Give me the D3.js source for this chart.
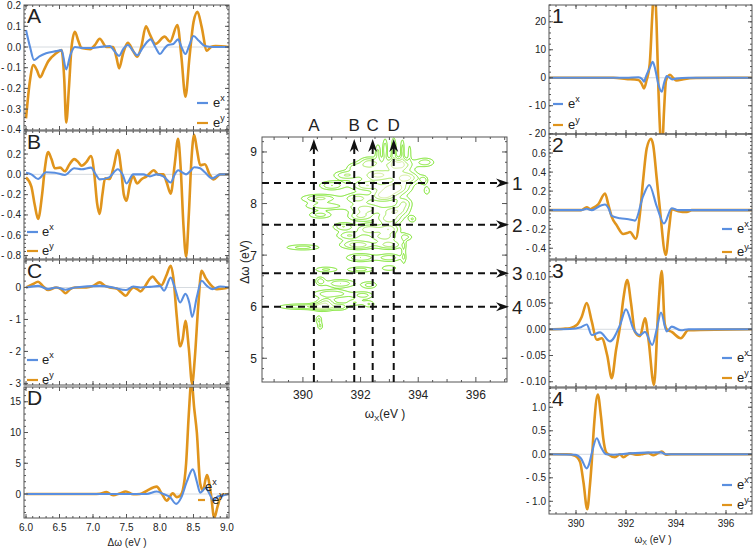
<!DOCTYPE html>
<html><head><meta charset="utf-8">
<script src="https://cdn.jsdelivr.net/npm/d3@7"></script>
<style>body{margin:0;background:#fff} svg{display:block} text{font-family:"Liberation Sans",Arial,sans-serif;fill:#222}</style>
</head><body><svg id="c" width="756" height="548"></svg>
<script>
// ---------------- DATA ----------------
// Left panels: x = Δω (eV)
const aEx=[[6.0,0.082],[6.06,0.0],[6.12,-0.063],[6.2,-0.045],[6.3,-0.03],[6.45,-0.02],[6.53,-0.015],[6.6,-0.108],[6.66,-0.04],[6.73,0.0],[6.85,-0.005],[6.96,-0.005],[7.1,0.0],[7.25,0.005],[7.32,-0.02],[7.39,-0.043],[7.45,-0.01],[7.52,0.01],[7.6,-0.02],[7.66,-0.04],[7.75,0.0],[7.86,0.037],[7.93,0.0],[8.0,-0.034],[8.06,-0.01],[8.12,0.01],[8.2,0.015],[8.27,0.037],[8.32,0.0],[8.38,-0.034],[8.44,0.01],[8.5,0.053],[8.58,0.03],[8.67,0.005],[8.8,0.0],[9.03,0.0]];
const aEy=[[6.0,-0.345],[6.06,-0.16],[6.11,-0.087],[6.16,-0.11],[6.21,-0.146],[6.27,-0.11],[6.33,-0.07],[6.45,-0.03],[6.53,-0.015],[6.57,-0.15],[6.6,-0.365],[6.64,-0.2],[6.68,0.0],[6.73,0.074],[6.78,0.03],[6.83,-0.005],[6.96,-0.01],[7.03,0.01],[7.1,0.04],[7.2,0.0],[7.3,0.0],[7.35,-0.05],[7.39,-0.103],[7.45,-0.03],[7.52,0.02],[7.6,-0.02],[7.66,-0.047],[7.72,0.0],[7.79,0.10],[7.85,0.06],[7.93,0.015],[8.07,0.05],[8.15,0.026],[8.26,0.106],[8.32,-0.05],[8.38,-0.24],[8.44,-0.05],[8.5,0.12],[8.56,0.17],[8.62,0.1],[8.7,-0.018],[8.76,0.0],[8.83,0.005],[9.03,0.0]];
const bEx=[[6.0,0.016],[6.08,0.0],[6.18,-0.046],[6.3,0.02],[6.43,0.016],[6.58,-0.007],[6.72,0.06],[6.83,0.05],[6.97,0.066],[7.04,0.0],[7.1,-0.05],[7.24,-0.03],[7.37,0.05],[7.44,0.0],[7.5,-0.09],[7.6,0.0],[7.75,0.0],[7.85,-0.02],[7.95,0.0],[8.05,-0.02],[8.16,-0.08],[8.22,0.0],[8.27,0.04],[8.33,0.02],[8.39,0.0],[8.45,0.03],[8.51,0.07],[8.6,0.06],[8.67,0.02],[8.78,-0.04],[8.9,0.0],[9.03,0.0]];
const bEy=[[6.0,-0.03],[6.08,-0.12],[6.13,-0.3],[6.18,-0.44],[6.24,-0.2],[6.28,0.05],[6.33,0.22],[6.38,0.15],[6.43,0.06],[6.51,0.066],[6.58,0.03],[6.65,0.1],[6.72,0.15],[6.78,0.12],[6.83,0.085],[6.9,0.12],[6.97,0.18],[7.02,0.0],[7.06,-0.28],[7.1,-0.39],[7.14,-0.2],[7.18,-0.04],[7.25,-0.046],[7.31,0.08],[7.37,0.24],[7.42,0.05],[7.46,-0.2],[7.5,-0.26],[7.55,-0.1],[7.6,-0.02],[7.66,-0.09],[7.72,-0.05],[7.8,-0.02],[7.91,0.04],[7.97,0.0],[8.05,0.0],[8.1,-0.08],[8.16,-0.19],[8.22,0.1],[8.27,0.35],[8.31,0.05],[8.35,-0.5],[8.39,-0.81],[8.43,-0.4],[8.47,0.15],[8.51,0.39],[8.55,0.25],[8.6,0.09],[8.67,0.1],[8.74,0.0],[8.8,-0.05],[8.9,0.0],[9.03,0.0]];
const cEx=[[6.0,0.0],[6.18,0.05],[6.33,-0.05],[6.45,0.0],[6.59,-0.07],[6.73,0.0],[7.1,0.05],[7.3,0.0],[7.49,-0.08],[7.6,0.03],[7.71,0.0],[7.85,0.02],[8.0,0.05],[8.06,-0.1],[8.16,0.31],[8.22,0.0],[8.3,-0.47],[8.38,-0.2],[8.44,-0.5],[8.48,-0.92],[8.55,-0.3],[8.62,0.21],[8.7,0.05],[8.78,-0.05],[8.9,0.03],[9.03,0.0]];
const cEy=[[6.0,0.0],[6.1,0.1],[6.18,0.18],[6.25,0.05],[6.33,-0.08],[6.45,0.0],[6.52,-0.05],[6.59,-0.18],[6.66,-0.05],[6.73,0.0],[6.9,0.0],[7.0,0.05],[7.1,0.16],[7.18,0.05],[7.25,0.0],[7.35,-0.03],[7.42,-0.15],[7.49,-0.26],[7.55,-0.1],[7.6,0.0],[7.66,-0.05],[7.71,-0.12],[7.78,0.05],[7.84,0.25],[7.89,0.34],[7.95,0.2],[8.02,0.07],[8.09,0.35],[8.16,0.68],[8.2,0.3],[8.25,-0.9],[8.3,-1.84],[8.34,-1.6],[8.38,-1.04],[8.43,-1.9],[8.48,-3.02],[8.52,-2.2],[8.57,-0.6],[8.62,0.52],[8.68,0.3],[8.75,0.1],[8.85,-0.05],[9.03,0.0]];
const dEx=[[6.0,0.0],[7.8,0.0],[7.95,0.4],[8.05,0.0],[8.15,-0.5],[8.24,-1.6],[8.32,-0.5],[8.4,2.0],[8.49,4.0],[8.55,2.0],[8.6,0.2],[8.68,1.0],[8.74,0.0],[8.8,-1.1],[8.86,-0.4],[8.92,-0.3],[9.03,0.0]];
const dEy=[[6.0,0.0],[7.0,0.0],[7.1,0.05],[7.2,0.3],[7.3,-0.2],[7.4,0.1],[7.49,0.4],[7.6,-0.05],[7.7,0.0],[7.8,0.5],[7.95,1.2],[8.03,0.0],[8.1,-1.07],[8.19,0.1],[8.25,-0.5],[8.3,-0.3],[8.34,0.6],[8.39,5.0],[8.43,13.0],[8.47,18.5],[8.51,14.0],[8.55,10.0],[8.6,1.7],[8.64,0.6],[8.7,3.1],[8.76,0.0],[8.81,-3.9],[8.86,-2.0],[8.92,-0.15],[9.03,0.0]];
// Right panels: x = ωX (eV)
const e1x=[[388.92,0],[392.0,0],[392.5,0.2],[392.65,-0.5],[392.72,-1.4],[392.8,0.5],[392.95,3.5],[393.07,5.7],[393.17,3],[393.3,-2.5],[393.43,-5.0],[393.52,-2],[393.63,0.6],[393.7,0.3],[393.85,-0.6],[394.0,-0.3],[394.5,0],[397.04,0]];
const e1y=[[388.92,0],[391.5,0],[392.0,-0.4],[392.5,-0.8],[392.62,-2.0],[392.72,-3.8],[392.82,-1.0],[392.95,5],[393.05,22],[393.13,33],[393.22,20],[393.3,-5],[393.37,-20],[393.44,-26],[393.52,-12],[393.6,-1],[393.76,1.1],[393.9,-0.2],[394.03,-1.0],[394.3,-0.5],[394.8,-0.1],[397.04,0]];
const e2x=[[388.92,0],[390.2,0],[390.43,0.015],[390.63,0.0],[391.0,0.05],[391.16,0.06],[391.3,0.02],[391.43,-0.06],[391.76,-0.085],[392.1,-0.095],[392.36,-0.11],[392.69,0.15],[392.93,0.265],[393.23,0.04],[393.52,-0.14],[393.83,0.02],[394.1,0.0],[397.04,0]];
const e2y=[[388.92,0],[390.2,0],[390.43,0.03],[390.58,0.01],[390.66,0.02],[390.89,0.06],[391.16,0.175],[391.3,0.05],[391.43,-0.07],[391.63,-0.16],[391.89,-0.25],[392.05,-0.24],[392.16,-0.23],[392.39,-0.3],[392.56,-0.03],[392.69,0.33],[392.83,0.65],[393.0,0.75],[393.09,0.68],[393.23,0.33],[393.36,0.0],[393.59,-0.47],[393.72,-0.2],[393.83,0.01],[394.09,-0.01],[394.43,-0.02],[394.63,0],[397.04,0]];
const e3x=[[388.92,0],[389.76,0.0005],[390.2,0.004],[390.43,0.009],[390.63,-0.011],[390.96,-0.006],[391.36,-0.023],[391.76,0.008],[392.0,0.038],[392.3,0.0],[392.56,-0.011],[392.76,-0.005],[393.05,-0.03],[393.23,0.0],[393.4,0.032],[393.63,-0.004],[393.83,0.005],[394.2,-0.002],[394.5,0],[397.04,0]];
const e3y=[[388.92,0],[389.5,0.001],[389.76,0.002],[390.03,0.008],[390.23,0.024],[390.43,0.05],[390.63,0.015],[390.83,-0.02],[391.03,-0.017],[391.25,-0.05],[391.43,-0.093],[391.6,-0.04],[391.76,0.005],[391.9,0.06],[392.05,0.094],[392.2,0.05],[392.36,-0.005],[392.56,-0.013],[392.76,0.021],[392.9,-0.02],[393.12,-0.106],[393.29,0.037],[393.43,0.111],[393.55,0.01],[393.63,0.0],[393.83,-0.005],[394.19,-0.017],[394.49,-0.002],[397.04,0]];
const e4x=[[388.92,0],[389.96,-0.01],[390.2,-0.09],[390.43,-0.3],[390.53,-0.2],[390.63,0.02],[390.83,0.34],[391.0,0.15],[391.2,0.0],[391.5,-0.01],[392.16,0.02],[393.4,0.04],[393.6,0.0],[397.04,0]];
const e4y=[[388.92,0],[389.63,0],[389.96,-0.03],[390.16,-0.16],[390.3,-0.6],[390.45,-1.17],[390.55,-0.7],[390.63,-0.16],[390.72,0.6],[390.87,1.27],[391.0,0.8],[391.09,0.34],[391.2,0.05],[391.29,0.0],[391.56,-0.06],[391.76,0.0],[391.89,-0.06],[392.16,0.02],[392.4,-0.01],[392.6,0.0],[392.89,0.03],[393.1,-0.02],[393.2,0.0],[393.43,0.06],[393.6,-0.01],[393.8,0.0],[397.04,0]];
// Tick values and labels
const aTicks=[0.2,0.1,0,-0.1,-0.2,-0.3,-0.4], aLabels=["0.2","0.1","0.0","- 0.1","- 0.2","- 0.3","- 0.4"];
const bTicks=[0.2,0,-0.2,-0.4,-0.6,-0.8], bLabels=["0.2","0.0","- 0.2","- 0.4","- 0.6","- 0.8"];
const cTicks=[0,-1,-2,-3], cLabels=["0","- 1","- 2","- 3"];
const dTicks=[15,10,5,0], dLabels=["15","10","5","0"];
const r1Ticks=[20,10,0,-10,-20], r1Labels=["20","10","0","- 10","- 20"];
const r2Ticks=[0.6,0.4,0.2,0,-0.2,-0.4], r2Labels=["0.6","0.4","0.2","0.0","- 0.2","- 0.4"];
const r3Ticks=[0.1,0.05,0,-0.05,-0.1], r3Labels=["0.10","0.05","0.00","- 0.05","- 0.10"];
const r4Ticks=[1,0.5,0,-0.5,-1], r4Labels=["1.0","0.5","0.0","- 0.5","- 1.0"];
const dwTicks=[6.0,6.5,7.0,7.5,8.0,8.5,9.0], dwLabels=["6.0","6.5","7.0","7.5","8.0","8.5","9.0"];
const wxTicks=[390,392,394,396], wxLabels=["390","392","394","396"];
const mYTicks=[5,6,7,8,9];
// Middle map: cut positions
const cutW=[390.38,391.78,392.42,393.15], cutWNames=["A","B","C","D"];
const cutDw=[8.40,7.59,6.65,6.0], cutDwNames=["1","2","3","4"];
// Contour peaks: [ωX, Δω, σx, σy, amplitude]
const peaks=[
[392.85,9.05,0.06,0.15,0.7],[393.15,9.05,0.06,0.16,0.75],[393.45,9.05,0.05,0.15,0.6],[392.6,9.0,0.07,0.12,0.55],[393.7,9.0,0.04,0.12,0.45],
[392.3,8.78,0.25,0.08,0.9],[393.3,8.75,0.35,0.09,1.15],[394.25,8.8,0.22,0.06,0.65],[391.8,8.7,0.2,0.06,0.6],
[391.5,8.55,0.3,0.06,0.75],[392.6,8.55,0.4,0.08,1.05],[393.6,8.5,0.3,0.08,1.05],[394.2,8.45,0.1,0.06,0.55],
[391.0,8.35,0.3,0.06,0.75],[392.2,8.35,0.35,0.07,0.95],[393.2,8.3,0.35,0.09,1.15],[394.3,8.25,0.08,0.06,0.5],
[390.6,8.1,0.45,0.055,0.8],[391.9,8.1,0.3,0.07,0.85],[392.8,8.15,0.3,0.08,1.05],[393.5,8.0,0.2,0.08,0.75],
[390.8,7.95,0.5,0.05,0.7],[392.2,7.9,0.4,0.07,0.85],[393.2,7.85,0.3,0.07,0.9],
[390.6,7.78,0.3,0.05,0.6],[392.0,7.75,0.3,0.06,0.75],[393.0,7.7,0.3,0.07,0.85],[393.8,7.7,0.1,0.05,0.5],
[391.4,7.55,0.25,0.055,0.75],[392.3,7.5,0.3,0.07,0.95],[393.0,7.5,0.25,0.07,0.9],
[391.6,7.38,0.3,0.055,0.75],[392.8,7.35,0.35,0.055,0.75],[393.6,7.35,0.15,0.05,0.5],
[390.0,7.15,0.45,0.04,0.6],[391.9,7.2,0.4,0.06,0.95],[393.0,7.2,0.3,0.06,0.85],
[392.0,6.95,0.35,0.055,0.75],[393.0,6.95,0.3,0.055,0.65],[393.5,7.05,0.06,0.2,0.45],
[390.8,6.72,0.3,0.04,0.55],[392.0,6.72,0.35,0.04,0.6],[393.0,6.75,0.2,0.04,0.5],
[391.3,6.45,0.35,0.055,0.75],[392.3,6.42,0.2,0.05,0.6],[390.6,6.5,0.12,0.06,0.6],
[391.0,6.25,0.45,0.055,0.75],[392.1,6.22,0.25,0.05,0.6],
[390.8,6.1,0.2,0.05,0.6],[391.8,6.08,0.2,0.045,0.5],
[390.0,6.0,0.6,0.04,0.7],[390.7,6.0,0.25,0.06,0.85],[391.3,6.0,0.2,0.05,0.6],[392.3,6.05,0.15,0.05,0.5],
[390.55,5.75,0.08,0.06,0.55],[390.6,5.62,0.07,0.05,0.5]];
const levels=[0.28,0.5,0.75,1.0];
const levelColors=["#6fe21a","#80e62e","#a4e85a","#d2ec98"];

// ---------------- DRAWING ----------------
const svg=d3.select("#c");
const BLUE="#5a8fe0", ORANGE="#e0941c", FRAME="#555";
let clipN=0;
function addClip(x0,y0,x1,y1){const id="clip"+(clipN++);svg.append("clipPath").attr("id",id).append("rect").attr("x",x0).attr("y",y0).attr("width",x1-x0).attr("height",y1-y0);return id;}

function minorBetween(t, n){
  const s=[...t].sort((a,b)=>a-b); const out=[]; const step=(s[1]-s[0])/n;
  for(let v=s[0]-step*n; v<=s[s.length-1]+step*n+1e-9; v+=step) out.push(+v.toFixed(6));
  return out;
}

function panel(o){
  const g=svg.append("g");
  const x=d3.scaleLinear().domain(o.xd).range([o.x0,o.x1]);
  const y=d3.scaleLinear().domain(o.yd).range([o.y1,o.y0]);
  const inY=v=>v>=o.yd[0]-1e-9&&v<=o.yd[1]+1e-9, inX=v=>v>=o.xd[0]-1e-9&&v<=o.xd[1]+1e-9;
  g.append("line").attr("x1",o.x0).attr("x2",o.x1).attr("y1",y(0)).attr("y2",y(0)).attr("stroke","#d6dbe0").attr("stroke-width",1);
  const cid=addClip(o.x0,o.y0,o.x1,o.y1);
  const line=d3.line().x(d=>x(d[0])).y(d=>y(d[1])).curve(d3.curveMonotoneX);
  const cg=g.append("g").attr("clip-path",`url(#${cid})`);
  cg.append("path").attr("d",line(o.ey)).attr("fill","none").attr("stroke",ORANGE).attr("stroke-width",2.6).attr("stroke-linejoin","round");
  cg.append("path").attr("d",line(o.ex)).attr("fill","none").attr("stroke",BLUE).attr("stroke-width",2.1).attr("stroke-linejoin","round");
  g.append("rect").attr("x",o.x0).attr("y",o.y0).attr("width",o.x1-o.x0).attr("height",o.y1-o.y0).attr("fill","none").attr("stroke",FRAME).attr("stroke-width",1);
  o.yt.forEach((v,i)=>{ if(!inY(v))return;
    g.append("line").attr("x1",o.x0).attr("x2",o.x0+4).attr("y1",y(v)).attr("y2",y(v)).attr("stroke",FRAME);
    g.append("line").attr("x1",o.x1).attr("x2",o.x1-4).attr("y1",y(v)).attr("y2",y(v)).attr("stroke",FRAME);
    g.append("text").attr("x",o.x0-3).attr("y",y(v)+3.5).attr("text-anchor","end").attr("font-size",10).text(o.yl[i]);
  });
  minorBetween(o.yt,5).forEach(v=>{ if(!inY(v))return;
    g.append("line").attr("x1",o.x0).attr("x2",o.x0+2).attr("y1",y(v)).attr("y2",y(v)).attr("stroke",FRAME);
    g.append("line").attr("x1",o.x1).attr("x2",o.x1-2).attr("y1",y(v)).attr("y2",y(v)).attr("stroke",FRAME);
  });
  o.xt.forEach((v,i)=>{ if(!inX(v))return;
    g.append("line").attr("x1",x(v)).attr("x2",x(v)).attr("y1",o.y1).attr("y2",o.y1-4).attr("stroke",FRAME);
    g.append("line").attr("x1",x(v)).attr("x2",x(v)).attr("y1",o.y0).attr("y2",o.y0+4).attr("stroke",FRAME);
    if(o.xl) g.append("text").attr("x",x(v)).attr("y",o.y1+13).attr("text-anchor","middle").attr("font-size",10).text(o.xl[i]);
  });
  minorBetween(o.xt,5).forEach(v=>{ if(!inX(v))return;
    g.append("line").attr("x1",x(v)).attr("x2",x(v)).attr("y1",o.y1).attr("y2",o.y1-2).attr("stroke",FRAME);
    g.append("line").attr("x1",x(v)).attr("x2",x(v)).attr("y1",o.y0).attr("y2",o.y0+2).attr("stroke",FRAME);
  });
  g.append("text").attr("x",o.x0+3).attr("y",o.y0+18).attr("font-size",21).text(o.name);
  const L=o.leg;
  function entry(col,ly,sup,tx,showLine,lx0,lx1){
    if(showLine) g.append("line").attr("x1",lx0).attr("x2",lx1).attr("y1",ly).attr("y2",ly).attr("stroke",col).attr("stroke-width",2.2);
    const t=g.append("text").attr("x",tx).attr("y",ly+4).attr("font-size",13).text("e");
    t.append("tspan").attr("dy",-6).attr("font-size",9).text(sup);
  }
  entry(BLUE,L.yx,"x",L.tx,L.showX!==false,L.lx0,L.lx1);
  entry(ORANGE,L.yy,"y",L.ty||L.tx,true,L.lx0,L.lx1);
}

const LX=[5.97,9.03], RX=[388.92,397.04];
panel({name:"A",x0:24,x1:229,y0:5,y1:130,xd:LX,yd:[-0.401,0.203],yt:aTicks,yl:aLabels,xt:dwTicks,ex:aEx,ey:aEy,leg:{yx:103,yy:123,lx0:197,lx1:208,tx:213}});
panel({name:"B",x0:24,x1:229,y0:131,y1:259,xd:LX,yd:[-0.834,0.427],yt:bTicks,yl:bLabels,xt:dwTicks,ex:bEx,ey:bEy,leg:{yx:232,yy:251,lx0:27,lx1:38,tx:42}});
panel({name:"C",x0:24,x1:229,y0:260,y1:385,xd:LX,yd:[-3.05,0.86],yt:cTicks,yl:cLabels,xt:dwTicks,ex:cEx,ey:cEy,leg:{yx:360,yy:380,lx0:27,lx1:38,tx:42}});
panel({name:"D",x0:24,x1:229,y0:387,y1:518,xd:LX,yd:[-3.9,17.4],yt:dTicks,yl:dLabels,xt:dwTicks,xl:dwLabels,ex:dEx,ey:dEy,leg:{yx:487,yy:500,showX:false,tx:205,ty:212,lx0:198,lx1:205}});
panel({name:"1",x0:549,x1:752,y0:5,y1:134,xd:RX,yd:[-20.1,26],yt:r1Ticks,yl:r1Labels,xt:wxTicks,ex:e1x,ey:e1y,leg:{yx:104,yy:125,lx0:553,lx1:563,tx:568}});
panel({name:"2",x0:549,x1:752,y0:134,y1:259,xd:RX,yd:[-0.513,0.8],yt:r2Ticks,yl:r2Labels,xt:wxTicks,ex:e2x,ey:e2y,leg:{yx:229,yy:252,lx0:722,lx1:732,tx:737}});
panel({name:"3",x0:549,x1:752,y0:260,y1:387,xd:RX,yd:[-0.110,0.132],yt:r3Ticks,yl:r3Labels,xt:wxTicks,ex:e3x,ey:e3y,leg:{yx:358,yy:378,lx0:722,lx1:732,tx:737}});
panel({name:"4",x0:549,x1:752,y0:388,y1:514,xd:RX,yd:[-1.27,1.41],yt:r4Ticks,yl:r4Labels,xt:wxTicks,xl:wxLabels,ex:e4x,ey:e4y,leg:{yx:485,yy:505,lx0:722,lx1:732,tx:737}});

svg.append("text").attr("x",127).attr("y",546).attr("text-anchor","middle").attr("font-size",10).text("Δω (eV )");
{const t=svg.append("text").attr("x",653).attr("y",543).attr("text-anchor","middle").attr("font-size",10).text("ω");
 t.append("tspan").attr("font-size",7).attr("dy",2).text("X");t.append("tspan").attr("dy",-2).text("  (eV )");}

// ---------------- middle map ----------------
const M={x0:262,x1:507,y0:137,y1:382};
const mx=d3.scaleLinear().domain([388.58,397.08]).range([M.x0,M.x1]);
const my=d3.scaleLinear().domain([4.54,9.29]).range([M.y1,M.y0]);
const W=M.x1-M.x0, H=M.y1-M.y0;
const grid=new Float64Array(W*H);
for(let j=0;j<H;j++){const dw=my.invert(M.y0+j+0.5);
  for(let i=0;i<W;i++){const wx=mx.invert(M.x0+i+0.5);let s=0;
    for(const p of peaks){const a=(wx-p[0])/p[2], b=(dw-p[1])/p[3]; const e=0.5*(a*a+b*b); if(e<12) s+=p[4]*Math.exp(-e);}
    grid[j*W+i]=s;}}
const cons=d3.contours().size([W,H]).thresholds(levels)(grid);
const mclip=addClip(M.x0,M.y0,M.x1,M.y1);
const cg=svg.append("g").attr("clip-path",`url(#${mclip})`).append("g").attr("transform",`translate(${M.x0},${M.y0})`);
cons.forEach((c,k)=>cg.append("path").attr("d",d3.geoPath()(c)).attr("fill","none").attr("stroke",levelColors[k]).attr("stroke-width",1));
svg.append("rect").attr("x",M.x0).attr("y",M.y0).attr("width",W).attr("height",H).attr("fill","none").attr("stroke",FRAME);
const mxt=d3.range(389,397.5,0.5), myt=d3.range(4.6,9.3,0.2);
mxt.forEach(v=>{const big=(v%2===0);const L=big?5:(Number.isInteger(v)?3:2);
  svg.append("line").attr("x1",mx(v)).attr("x2",mx(v)).attr("y1",M.y1).attr("y2",M.y1-L).attr("stroke",FRAME);
  svg.append("line").attr("x1",mx(v)).attr("x2",mx(v)).attr("y1",M.y0).attr("y2",M.y0+L).attr("stroke",FRAME);});
wxTicks.forEach((v,i)=>svg.append("text").attr("x",mx(v)).attr("y",M.y1+17).attr("text-anchor","middle").attr("font-size",12).text(wxLabels[i]));
myt.forEach(v=>{
  svg.append("line").attr("x1",M.x0).attr("x2",M.x0+2).attr("y1",my(v)).attr("y2",my(v)).attr("stroke",FRAME);
  svg.append("line").attr("x1",M.x1).attr("x2",M.x1-2).attr("y1",my(v)).attr("y2",my(v)).attr("stroke",FRAME);});
mYTicks.forEach(v=>{
  svg.append("line").attr("x1",M.x0).attr("x2",M.x0+5).attr("y1",my(v)).attr("y2",my(v)).attr("stroke",FRAME);
  svg.append("line").attr("x1",M.x1).attr("x2",M.x1-5).attr("y1",my(v)).attr("y2",my(v)).attr("stroke",FRAME);
  svg.append("text").attr("x",M.x0-5).attr("y",my(v)+4.5).attr("text-anchor","end").attr("font-size",12).text(String(v));});
{const t=svg.append("text").attr("x",385).attr("y",418).attr("text-anchor","middle").attr("font-size",12).text("ω");
 t.append("tspan").attr("font-size",8).attr("dy",3).text("X");t.append("tspan").attr("dy",-3).text("(eV )");}
svg.append("text").attr("transform","translate(249,262) rotate(-90)").attr("text-anchor","middle").attr("font-size",12).text("Δω (eV)");
const ag=svg.append("g");
function arrowHead(xt,yt,dir){
  let p; if(dir==="up") p=`M${xt},${yt} L${xt-4.5},${yt+13} L${xt},${yt+9} L${xt+4.5},${yt+13} Z`;
  else p=`M${xt},${yt} L${xt-13},${yt-4.5} L${xt-9},${yt} L${xt-13},${yt+4.5} Z`;
  ag.append("path").attr("d",p).attr("fill","#111");
}
cutW.forEach((v,i)=>{
  ag.append("line").attr("x1",mx(v)).attr("x2",mx(v)).attr("y1",M.y1).attr("y2",M.y0+10).attr("stroke","#111").attr("stroke-width",2).attr("stroke-dasharray","7,5");
  arrowHead(mx(v),M.y0+2,"up");
  svg.append("text").attr("x",mx(v)).attr("y",M.y0-6).attr("text-anchor","middle").attr("font-size",17).text(cutWNames[i]);
});
cutDw.forEach((v,i)=>{
  ag.append("line").attr("x1",M.x0).attr("x2",M.x1-8).attr("y1",my(v)).attr("y2",my(v)).attr("stroke","#111").attr("stroke-width",2).attr("stroke-dasharray","7,5");
  arrowHead(M.x1+2,my(v),"right");
  svg.append("text").attr("x",M.x1+5).attr("y",my(v)+7).attr("font-size",19).text(cutDwNames[i]);
});
</script></body></html>
